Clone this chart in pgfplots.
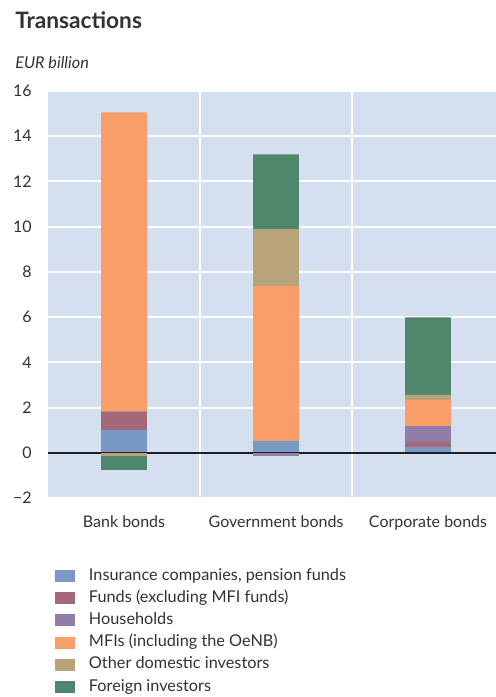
\documentclass[border=0pt]{standalone}
\usepackage{fontspec}
\setmainfont{Lato}
\usepackage{pgfplots}
\pgfplotsset{compat=1.18}
\definecolor{bgblue}{RGB}{212,224,239}
\definecolor{cins}{RGB}{119,153,195}
\definecolor{cfund}{RGB}{163,105,120}
\definecolor{chh}{RGB}{146,124,170}
\definecolor{cmfi}{RGB}{249,158,104}
\definecolor{coth}{RGB}{184,163,122}
\definecolor{cfor}{RGB}{78,135,108}
\definecolor{txt}{RGB}{50,50,50}
\pgfplotsset{
  common/.style={
    at={(36pt,-373.5pt)}, anchor=south west,
    scale only axis, width=336pt, height=305.25pt,
    xmin=-0.5, xmax=2.447, ymin=-2, ymax=16,
    enlargelimits=false,
    ybar stacked, bar width=0.3,
  },
}
\begin{document}
\begin{tikzpicture}
\path[use as bounding box] (0pt,0pt) rectangle (372pt,-522.75pt);
\node[anchor=base west, inner sep=0pt, text=txt, font=\bfseries\fontsize{17}{19}\selectfont] at (11.25pt,-21pt) {Transactions};
\node[anchor=base west, inner sep=0pt, text=txt, font=\itshape\fontsize{12.2}{14}\selectfont] at (11.25pt,-51pt) {EUR billion};
\begin{axis}[common,
  axis background/.style={fill=bgblue},
  axis line style={draw=none},
  tick style={draw=none},
  ytick={-2,0,2,4,6,8,10,12,14,16},
  yticklabels={−2,0,2,4,6,8,10,12,14,16},
  xtick={0,1,2},
  xticklabels={Bank bonds,Government bonds,Corporate bonds},
  ymajorgrids=true,
  major grid style={white, line width=1.5pt},
  extra x ticks={0.5,1.5},
  extra x tick labels={},
  extra x tick style={grid=major, major grid style={white, line width=1.5pt}},
  ticklabel style={font=\fontsize{12}{14}\selectfont, text=txt},
  yticklabel style={anchor=east, inner sep=0pt, xshift=-12pt},
  xticklabel style={anchor=north, inner sep=0pt, text height=9pt, text depth=3pt, yshift=-13pt},
  legend style={at={(0.0156,-0.172)}, anchor=north west, draw=none, fill=none,
    inner sep=0pt, outer sep=0pt, row sep=4.65pt,
    font=\fontsize{12.2}{14}\selectfont, text=txt,
    nodes={inner sep=0pt, text height=9pt, text depth=3pt}},
  legend cell align=left,
  legend image code/.code={\fill[#1, draw=none] (0pt,-4.5pt) rectangle (15pt,4.5pt); \path (25.5pt,0pt);},
]
\addplot[fill=cins, draw=none] coordinates {(0,1.00) (1,0.53) (2,0.26)};
\addplot[fill=cfund, draw=none] coordinates {(0,0.83) (1,0) (2,0.22)};
\addplot[fill=chh, draw=none] coordinates {(0,0) (1,0) (2,0.71)};
\addplot[fill=cmfi, draw=none] coordinates {(0,13.22) (1,6.84) (2,1.14)};
\addplot[fill=coth, draw=none] coordinates {(0,0) (1,2.52) (2,0.23)};
\addplot[fill=cfor, draw=none] coordinates {(0,0) (1,3.31) (2,3.43)};
\legend{{Insurance companies, pension funds}, {Funds (excluding MFI funds)}, Households, {MFIs (including the OeNB)}, Other domestic investors, Foreign investors}
\end{axis}
\begin{axis}[common, hide axis]
\addplot[fill=chh, draw=none] coordinates {(0,0) (1,-0.15) (2,0)};
\addplot[fill=coth, draw=none] coordinates {(0,-0.15) (1,0) (2,0)};
\addplot[fill=cfor, draw=none] coordinates {(0,-0.60) (1,0) (2,0)};
\draw[line width=1.5pt, black!88] (axis cs:-0.5,0) -- (axis cs:2.447,0);
\end{axis}
\end{tikzpicture}
\end{document}
